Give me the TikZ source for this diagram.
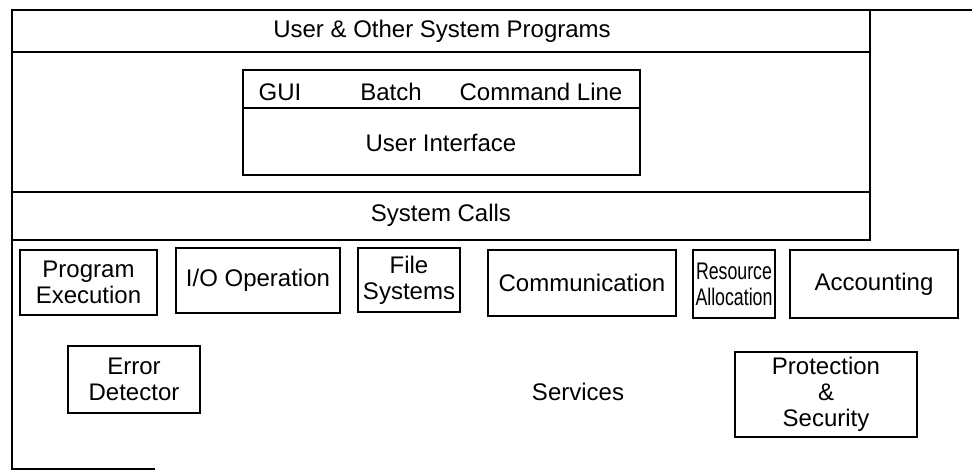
\documentclass[tikz,border=0pt]{standalone}
\usepackage{fontspec}
\setmainfont{Liberation Sans}
\newfontfamily\narrowsans[FakeStretch=0.74]{Liberation Sans}
\begin{document}
\begin{tikzpicture}[x=1pt,y=-1pt,
  frame/.style={line width=1.3pt},
  svc/.style={draw,line width=1.2pt,inner sep=0pt,align=center,
    font=\fontsize{24}{26}\selectfont},
  lbl/.style={inner sep=0pt,font=\fontsize{24}{26}\selectfont}]
\useasboundingbox (0,0) rectangle (972,471);
% outer frame and layer bands
\draw[frame] (972,10) -- (12,10) -- (12,469) -- (155,469);
\draw[frame] (870,10) -- (870,240) -- (12,240);
\draw[frame] (12,52) -- (870,52);
\draw[frame] (12,192) -- (870,192);
\node[lbl] (prog) at (442,31) {User \& Other System Programs};
% user interface block
\node[draw,line width=1.2pt,minimum width=397pt,minimum height=105pt,inner sep=0pt] (ui) at (441.5,122.5) {};
\coordinate (uisl) at (243,108);
\coordinate (uisr) at (640,108);
\draw[line width=1.2pt] (uisl) -- (uisr);
\node[lbl] (gui) at (280,92) {GUI};
\node[lbl] (batch) at (391,92) {Batch};
\node[lbl] (cmd) at (541,92) {Command Line};
\node[lbl] (uilab) at (441,143) {User Interface};
\node[lbl] (sys) at (441,215) {System Calls};
% services
\node[svc,minimum width=137pt,minimum height=65pt] (pe) at (88.5,282.5) {Program\\Execution};
\node[svc,minimum width=164pt,minimum height=65pt] (io) at (258,280.5) {I/O Operation};
\node[svc,minimum width=102pt,minimum height=64pt] (fs) at (409,280) {File\\Systems};
\node[svc,minimum width=188pt,minimum height=66pt] (com) at (582,283) {Communication};
\node[svc,minimum width=82pt,minimum height=68pt,
  font=\narrowsans\fontsize{24}{26}\selectfont] (ra) at (734,284) {Resource\\Allocation};
\node[svc,minimum width=168pt,minimum height=68pt] (acc) at (874,284) {Accounting};
\node[svc,minimum width=132pt,minimum height=67pt] (err) at (134,379.5) {Error\\Detector};
\node[svc,minimum width=182pt,minimum height=85pt] (prot) at (826,394.5) {Protection\\\&\\Security};
\node[lbl] (serv) at (578,392) {Services};
\end{tikzpicture}
\end{document}
